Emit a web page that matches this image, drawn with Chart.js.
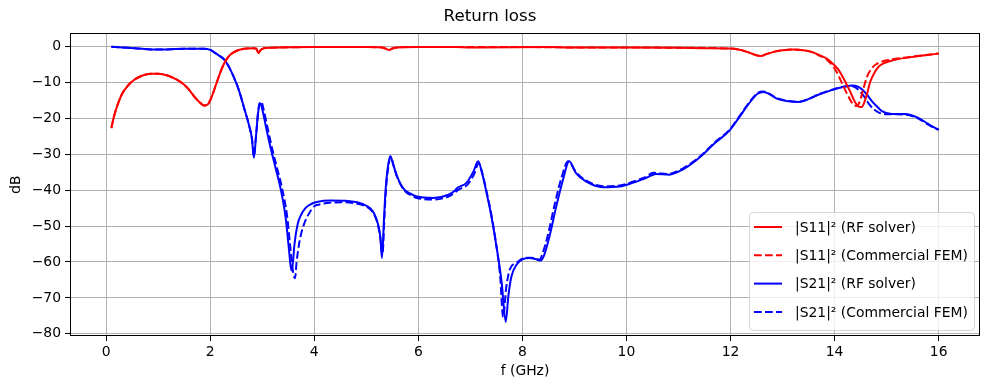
<!DOCTYPE html>
<html>
<head>
<meta charset="utf-8">
<script src="https://cdn.jsdelivr.net/npm/chart.js@4/dist/chart.umd.min.js"></script>
<style>
  html, body { margin: 0; padding: 0; background: #fff; }
  #wrap { width: 989px; height: 390px; }
</style>
</head>
<body>
<div id="wrap"><canvas id="chart" width="989" height="390"></canvas></div>
<script>
// |S11|^2, RF solver
const s11RfFreq = [0.1, 0.15, 0.2, 0.3, 0.42, 0.54, 0.7, 0.86, 1.0, 1.18, 1.35, 1.5, 1.6, 1.69, 1.8, 1.88, 1.95, 2.0, 2.05, 2.11, 2.18, 2.24, 2.32, 2.39, 2.5, 2.65, 2.8, 2.88, 2.93, 2.97, 3.03, 3.35, 4.0, 5.0, 5.3, 5.38, 5.44, 5.5, 5.6, 6.0, 6.7, 7.0, 7.2, 8.5, 8.9, 9.2, 10.0, 11.0, 11.5, 12.0, 12.2, 12.35, 12.5, 12.58, 12.7, 12.87, 13.0, 13.19, 13.4, 13.57, 13.7, 13.85, 13.95, 14.08, 14.2, 14.3, 14.4, 14.47, 14.52, 14.6, 14.69, 14.78, 14.85, 14.95, 15.04, 15.2, 15.48, 15.75, 16.0];
const s11RfDb = [-22.6, -19.5, -17.1, -13.4, -10.9, -9.3, -8.1, -7.6, -7.6, -8.1, -9.2, -10.7, -12.2, -13.9, -15.6, -16.4, -16.2, -15.0, -13.2, -10.7, -7.8, -5.6, -3.5, -2.3, -1.3, -0.7, -0.5, -0.6, -1.9, -1.0, -0.5, -0.3, -0.2, -0.2, -0.3, -0.7, -1.0, -0.6, -0.3, -0.2, -0.2, -0.3, -0.3, -0.2, -0.3, -0.3, -0.3, -0.4, -0.5, -0.6, -1.0, -1.7, -2.5, -2.7, -2.1, -1.4, -1.1, -0.9, -1.1, -1.6, -2.4, -3.4, -4.6, -6.6, -9.7, -12.6, -15.7, -16.8, -16.9, -14.4, -9.7, -7.0, -5.6, -4.7, -4.2, -3.6, -3.0, -2.5, -2.0];

// |S11|^2, commercial FEM
const s11FemFreq = [0.1, 0.15, 0.2, 0.3, 0.42, 0.54, 0.7, 0.86, 1.0, 1.18, 1.35, 1.5, 1.6, 1.69, 1.8, 1.88, 1.95, 2.0, 2.05, 2.11, 2.18, 2.24, 2.32, 2.39, 2.5, 2.65, 2.8, 2.88, 2.93, 2.97, 3.03, 3.35, 4.0, 5.0, 5.3, 5.38, 5.44, 5.5, 5.6, 6.0, 7.0, 8.0, 9.0, 10.0, 11.0, 12.0, 12.2, 12.35, 12.5, 12.58, 12.7, 12.87, 13.0, 13.19, 13.4, 13.57, 13.7, 13.85, 13.95, 14.05, 14.15, 14.25, 14.35, 14.42, 14.48, 14.55, 14.62, 14.7, 14.8, 14.92, 15.04, 15.2, 15.48, 15.75, 16.0];
const s11FemDb = [-22.8, -19.6, -17.1, -13.4, -10.9, -9.3, -8.1, -7.6, -7.6, -8.1, -9.2, -10.7, -12.2, -13.9, -15.6, -16.5, -16.2, -15.0, -13.2, -10.7, -7.8, -5.6, -3.5, -2.3, -1.3, -0.7, -0.5, -0.6, -1.8, -1.0, -0.5, -0.3, -0.2, -0.2, -0.3, -0.7, -1.0, -0.6, -0.3, -0.2, -0.2, -0.2, -0.3, -0.3, -0.4, -0.6, -1.0, -1.7, -2.5, -2.7, -2.1, -1.4, -1.1, -0.9, -1.1, -1.6, -2.5, -3.7, -5.2, -7.4, -10.5, -13.5, -16.0, -16.6, -15.5, -12.0, -8.6, -6.4, -5.0, -4.2, -3.8, -3.4, -2.9, -2.4, -2.0];

// |S21|^2, RF solver
const s21RfFreq = [0.1, 0.54, 1.0, 1.5, 1.88, 2.0, 2.07, 2.17, 2.27, 2.37, 2.46, 2.56, 2.65, 2.75, 2.8, 2.84, 2.88, 2.92, 2.96, 3.0, 3.08, 3.16, 3.25, 3.35, 3.45, 3.51, 3.56, 3.59, 3.62, 3.68, 3.75, 3.83, 3.95, 4.05, 4.31, 4.6, 4.82, 4.95, 5.07, 5.15, 5.22, 5.27, 5.3, 5.34, 5.37, 5.41, 5.46, 5.52, 5.59, 5.71, 5.85, 5.97, 6.29, 6.58, 6.7, 6.74, 6.93, 7.06, 7.15, 7.22, 7.3, 7.4, 7.5, 7.6, 7.68, 7.73, 7.79, 7.89, 8.01, 8.14, 8.25, 8.35, 8.42, 8.52, 8.65, 8.78, 8.9, 9.03, 9.22, 9.55, 9.87, 10.12, 10.35, 10.57, 10.82, 11.08, 11.4, 11.7, 11.97, 12.16, 12.36, 12.52, 12.64, 12.75, 12.87, 13.12, 13.31, 13.5, 13.7, 13.9, 14.08, 14.34, 14.45, 14.53, 14.62, 14.72, 14.82, 14.91, 15.1, 15.36, 15.61, 15.8, 15.96, 16.0];
const s21RfDb = [-0.1, -0.5, -0.9, -0.7, -0.7, -1.0, -1.6, -2.6, -3.7, -6.0, -8.8, -12.6, -17.1, -22.2, -25.5, -31.0, -25.0, -18.5, -15.9, -17.5, -23.0, -28.2, -33.5, -39.4, -47.7, -56.0, -62.4, -60.0, -55.0, -49.5, -46.8, -45.0, -43.8, -43.3, -42.9, -43.0, -43.4, -44.0, -45.0, -46.5, -49.2, -53.0, -58.9, -48.0, -40.0, -34.0, -30.5, -33.0, -36.2, -39.5, -41.0, -41.8, -42.2, -41.3, -40.2, -39.5, -37.9, -34.8, -32.0, -35.0, -40.0, -47.0, -55.5, -65.5, -76.7, -69.5, -64.0, -60.7, -59.2, -58.9, -59.2, -59.6, -58.0, -52.9, -44.6, -37.1, -32.0, -35.3, -37.6, -39.2, -39.0, -38.0, -36.8, -35.5, -35.7, -34.3, -31.0, -26.9, -23.6, -19.9, -15.8, -13.2, -12.7, -13.3, -14.4, -15.3, -15.5, -14.7, -13.4, -12.4, -11.6, -10.9, -11.2, -12.0, -13.4, -15.3, -16.8, -18.0, -18.8, -18.8, -19.9, -21.6, -22.9, -23.1];

// |S21|^2, commercial FEM
const s21FemFreq = [0.1, 0.54, 1.0, 1.5, 1.88, 2.0, 2.07, 2.17, 2.27, 2.37, 2.46, 2.56, 2.65, 2.75, 2.8, 2.84, 2.88, 2.93, 2.98, 3.03, 3.11, 3.19, 3.28, 3.38, 3.48, 3.54, 3.6, 3.63, 3.66, 3.72, 3.8, 3.9, 3.99, 4.1, 4.3, 4.6, 4.82, 4.95, 5.07, 5.15, 5.22, 5.27, 5.31, 5.35, 5.38, 5.42, 5.47, 5.53, 5.6, 5.72, 5.86, 5.97, 6.29, 6.58, 6.7, 6.76, 6.95, 7.08, 7.16, 7.23, 7.31, 7.41, 7.5, 7.57, 7.63, 7.69, 7.76, 7.89, 8.01, 8.14, 8.25, 8.33, 8.39, 8.49, 8.62, 8.75, 8.88, 9.03, 9.22, 9.55, 9.87, 10.12, 10.35, 10.52, 10.8, 11.08, 11.4, 11.7, 11.97, 12.16, 12.36, 12.52, 12.64, 12.75, 12.87, 13.12, 13.31, 13.5, 13.7, 13.9, 14.08, 14.3, 14.4, 14.48, 14.57, 14.66, 14.76, 14.86, 15.05, 15.36, 15.61, 15.8, 15.96, 16.0];
const s21FemDb = [-0.1, -0.5, -0.9, -0.7, -0.7, -1.0, -1.6, -2.6, -3.7, -6.0, -8.8, -12.6, -17.1, -22.2, -25.5, -30.5, -25.0, -17.0, -15.4, -17.8, -23.2, -28.4, -33.6, -39.4, -47.5, -56.0, -63.5, -64.5, -60.0, -54.0, -49.6, -46.5, -44.6, -44.0, -43.5, -43.4, -43.8, -44.3, -45.3, -46.8, -49.5, -53.5, -58.0, -47.0, -39.5, -33.8, -30.8, -33.5, -36.6, -39.9, -41.5, -42.2, -42.6, -41.8, -40.7, -40.0, -38.4, -35.3, -32.5, -35.3, -40.3, -47.3, -55.5, -63.5, -75.3, -67.0, -62.0, -60.2, -59.0, -58.8, -59.0, -59.3, -57.5, -52.5, -44.0, -36.6, -32.0, -35.0, -37.3, -38.9, -38.7, -37.7, -36.5, -35.2, -35.5, -34.0, -30.8, -26.7, -23.4, -19.7, -15.6, -13.0, -12.6, -13.2, -14.3, -15.2, -15.4, -14.6, -13.3, -12.3, -11.5, -11.0, -11.4, -12.4, -14.0, -16.0, -17.6, -18.5, -18.9, -19.0, -20.1, -21.8, -23.0, -23.2];

const xTicks = [0, 2, 4, 6, 8, 10, 12, 14, 16];
const yTicks = [0, -10, -20, -30, -40, -50, -60, -70, -80];

const legendLabels = ['|S11|\u00b2 (RF solver)', '|S11|\u00b2 (Commercial FEM)', '|S21|\u00b2 (RF solver)', '|S21|\u00b2 (Commercial FEM)'];

const FONT = 'DejaVu Sans';
const DASH = [7.7, 3.3];

function pts(fs, vs) {
  return fs.map((f, i) => ({ x: f, y: vs[i] }));
}

function series(label, fs, vs, color, dashed) {
  return {
    label,
    data: pts(fs, vs),
    borderColor: color,
    backgroundColor: color,
    borderWidth: 2,
    borderDash: dashed ? DASH : [],
    pointRadius: 0,
    cubicInterpolationMode: 'monotone',
    fill: false
  };
}

const minus = v => String(v).replace('-', '\u2212');

// black box round the plot area
const framePlugin = {
  id: 'frame',
  afterDatasetsDraw(chart) {
    const { ctx, chartArea: a } = chart;
    ctx.save();
    ctx.strokeStyle = '#000';
    ctx.lineWidth = 1;
    ctx.strokeRect(Math.round(a.left) + 0.5, Math.round(a.top) + 0.5,
      Math.round(a.right - a.left) - 1, Math.round(a.bottom - a.top) - 1);
    ctx.restore();
  }
};

// matplotlib-like legend in the lower right corner
const boxLegend = {
  id: 'boxLegend',
  afterDraw(chart) {
    const { ctx, chartArea: a } = chart;
    const w = 225, h = 118;
    const x0 = a.right - 6 - w, y0 = a.bottom - 6 - h;
    ctx.save();
    ctx.beginPath();
    ctx.roundRect(x0 + 0.5, y0 + 0.5, w, h, 4);
    ctx.fillStyle = 'rgba(255,255,255,0.8)';
    ctx.fill();
    ctx.strokeStyle = 'rgba(204,204,204,0.8)';
    ctx.lineWidth = 1;
    ctx.stroke();
    ctx.font = '13.9px "' + FONT + '"';
    ctx.textBaseline = 'middle';
    ctx.fillStyle = '#000';
    chart.data.datasets.forEach((ds, i) => {
      const y = y0 + 15 + i * 28.3;
      ctx.beginPath();
      ctx.setLineDash(ds.borderDash);
      ctx.strokeStyle = ds.borderColor;
      ctx.lineWidth = 2;
      ctx.moveTo(x0 + 5, y);
      ctx.lineTo(x0 + 33, y);
      ctx.stroke();
      ctx.setLineDash([]);
      ctx.fillText(legendLabels[i], x0 + 46, y + 1);
    });
    ctx.restore();
  }
};

new Chart(document.getElementById('chart').getContext('2d'), {
  type: 'line',
  data: {
    datasets: [
      series(legendLabels[0], s11RfFreq, s11RfDb, '#ff0000', false),
      series(legendLabels[1], s11FemFreq, s11FemDb, '#ff0000', true),
      series(legendLabels[2], s21RfFreq, s21RfDb, '#0000ff', false),
      series(legendLabels[3], s21FemFreq, s21FemDb, '#0000ff', true)
    ]
  },
  options: {
    responsive: false,
    animation: false,
    layout: { padding: { left: 0, right: 9, top: 0, bottom: 0 } },
    plugins: {
      legend: { display: false },
      tooltip: { enabled: false },
      title: {
        display: true,
        text: 'Return loss',
        color: '#000',
        font: { family: FONT, size: 16.7, weight: 'normal' },
        padding: { top: 7, bottom: 6 }
      }
    },
    scales: {
      x: {
        type: 'linear',
        min: -0.695,
        max: 16.795,
        afterBuildTicks: s => { s.ticks = xTicks.map(v => ({ value: v })); },
        afterFit: s => { s.height = 54; },
        grid: { color: '#b0b0b0', tickColor: '#000', tickLength: 5, lineWidth: 1 },
        border: { display: false },
        ticks: { color: '#000', padding: 3, maxRotation: 0, font: { family: FONT, size: 13.9 }, callback: v => minus(v) },
        title: { display: true, text: 'f (GHz)', color: '#000', font: { family: FONT, size: 13.9 }, padding: { top: 0, bottom: 10 } }
      },
      y: {
        type: 'linear',
        min: -80.6,
        max: 3.7,
        afterBuildTicks: s => { s.ticks = yTicks.map(v => ({ value: v })); },
        afterFit: s => { s.width = 70; },
        grid: { color: '#b0b0b0', tickColor: '#000', tickLength: 5, lineWidth: 1 },
        border: { display: false },
        ticks: { color: '#000', padding: 4, font: { family: FONT, size: 13.9 }, callback: v => minus(v) },
        title: { display: true, text: 'dB', color: '#000', font: { family: FONT, size: 13.9 }, padding: { top: 8, bottom: 0 } }
      }
    }
  },
  plugins: [framePlugin, boxLegend]
});
</script>
</body>
</html>
